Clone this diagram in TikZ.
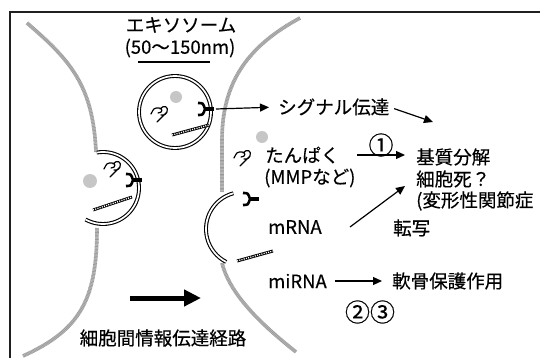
\documentclass[tikz,border=0pt]{standalone}
\usepackage{fontspec}
\setmainfont[FakeBold=0.4]{Noto Sans CJK JP}
\usetikzlibrary{arrows.meta}

\tikzset{
  membrane/.style={draw=gray!45, line width=3.6pt,
    postaction={draw=gray!80, line width=3.6pt, dash pattern=on 0.7pt off 0.7pt}},
  vesicle/.style={draw=black, double=white, double distance=1.7pt, line width=1.1pt},
  arr/.style={-{Triangle[length=9pt,width=8pt]}, line width=1.2pt},
  lbl/.style={inner sep=0pt, font=\fontsize{18.5}{20}\selectfont},
  numlbl/.style={inner sep=0pt, font=\fontsize{25}{26}\selectfont},
  cargo/.style={fill=gray!45},
  protein/.pic={
    \draw[line width=1.2pt, line cap=round, line join=round]
      (-9,1) .. controls (-6,-5) .. (-1,-5) .. controls (3,-5) and (3,0) .. (-2,0)
      (0,-4) .. controls (4,-9) and (9,-6) .. (7,-1) .. controls (5,2) .. (1,2)
      (7,-1) -- (-3,9);
  },
  receptor/.pic={
    \draw[line width=2.6pt] (-6,-6) .. controls (-1,-6) .. (1,0) .. controls (-1,6) .. (-6,6);
    \draw[line width=4.5pt] (1,0) -- (10,0);
  },
  rnastrand/.style={draw, line width=3pt,
    postaction={draw=white, line width=1.3pt, dash pattern=on 1.1pt off 1.2pt}}
}

\begin{document}
\begin{tikzpicture}[x=1pt, y=-1pt]
	\useasboundingbox (0,0) rectangle (540,358);
	\draw[gray!25!black, line width=1.2pt] (10,358) -- (10,12) -- (540,12);

	% membranes of the two cells
	\draw[membrane] (27,23) .. controls (70,60) and (93,85) .. (96,152);
	\draw[membrane] (97,228) .. controls (97,300) and (80,330) .. (23,356);
	\draw[membrane] (300,18) .. controls (250,45) and (222,80) .. (222,140) -- (222,192);
	\draw[membrane] (222,263) .. controls (230,295) and (262,325) .. (296,352);

	% budding vesicle, free exosome, uptake pocket
	\draw[vesicle] (103,188) ++(-100:36) arc[start angle=-100, end angle=119, radius=36];
	\draw[vesicle] (175,112) circle (36);
	\draw[vesicle] (243,229) ++(255:37) arc[start angle=255, end angle=117, radius=37];

	\fill[cargo] (90,181) circle (7);
	\fill[cargo] (176,97) circle (6);
	\fill[cargo] (262,137) circle (6);

	\pic at (113,168) {protein};
	\pic at (160,113) {protein};
	\pic at (243,157) {protein};

	\path[rnastrand] (93,210) -- (132,197);
	\path[rnastrand] (172,135) -- (209,125);
	\path[rnastrand] (237,261) -- (273,251);

	\pic at (132,180) {receptor};
	\pic at (204,109) {receptor};
	\pic at (249,199) {receptor};
	\coordinate (exorec) at (216,109);

	% labels
	\node[lbl] (exo) at (181,25) {エキソソーム};
	\node[lbl] (size) at (180,48) {(50〜150nm)};
	\draw[line width=1.3pt] (138,62) -- (210,62);

	\node[lbl, anchor=west] (signal) at (278,107) {シグナル伝達};
	\node[lbl, anchor=west] (prot) at (265,155) {たんぱく};
	\node[lbl, anchor=west] (mmp) at (264,178) {(MMPなど)};
	\node[lbl, anchor=west] (mrna) at (268,227) {mRNA};
	\node[lbl, anchor=west] (mirna) at (268,281) {miRNA};
	\node[lbl, anchor=west] (matrix) at (416,157) {基質分解};
	\node[lbl, anchor=west] (death) at (416,179) {細胞死？};
	\node[lbl, anchor=west] (oa) at (416,201) {(変形性関節症};
	\node[lbl, anchor=west] (transcr) at (393,228) {転写};
	\node[lbl, anchor=west] (protect) at (392,281) {軟骨保護作用};
	\node[numlbl] (num1) at (381,145) {①};
	\node[numlbl] (num23) at (370,312) {②③};
	\node[lbl] (route) at (163,338) {細胞間情報伝達経路};

	% arrows
	\coordinate (s1) at (433,122);
	\coordinate (m1) at (350,227);
	\coordinate (m2) at (405,186);
	\coordinate (b1) at (130,298);
	\coordinate (b2) at (201,298);
	\draw[arr, shorten >=9pt] (exorec) -- (signal.west);
	\draw[arr, shorten <=5pt] (signal.east) -- (s1);
	\draw[arr, shorten <=18pt, shorten >=11pt] (prot.east) -- (prot.east -| matrix.west);
	\draw[arr] (m1) -- (m2);
	\draw[arr, shorten <=8pt, shorten >=10pt] (mirna.east) -- (protect.west);
	\draw[-{Triangle[length=17pt,width=16pt]}, line width=5pt] (b1) -- (b2);
\end{tikzpicture}
\end{document}
